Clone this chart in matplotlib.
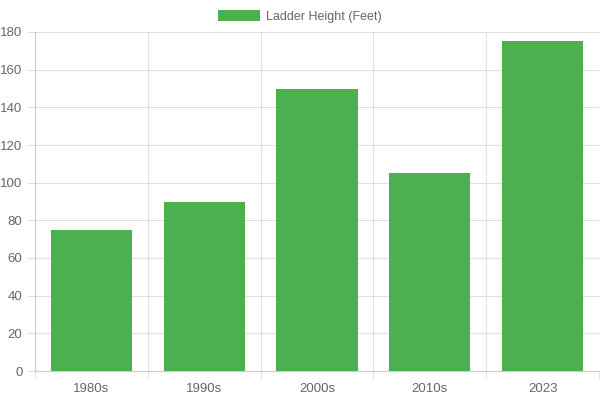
import numpy as np
import matplotlib.pyplot as plt

# данные
decades = ["1980s", "1990s", "2000s", "2010s", "2023"]
heights = [75, 90, 150, 105, 175]
series_name = "Ladder Height (Feet)"

plt.rcParams["font.family"] = ["Liberation Sans", "DejaVu Sans"]

fig = plt.figure(figsize=(6, 4), dpi=100)
ax = fig.add_axes([35 / 600, 1 - 371 / 400, 564 / 600, 339 / 400])

x = np.arange(len(decades))
ax.bar(x, heights, width=0.72, color="#4caf50", label=series_name, zorder=3)

ax.set_xlim(-0.5, len(decades) - 0.5)
ax.set_ylim(0, 180)
ax.set_yticks(range(0, 181, 20))
ax.set_xticks(x)
ax.set_xticklabels(decades)
ax.set_xticks(np.arange(-0.5, len(decades), 1), minor=True)

grid_c = "#e0e0e0"
ax.grid(axis="y", color=grid_c, linewidth=0.8, zorder=0)
ax.grid(axis="x", which="minor", color=grid_c, linewidth=0.8, zorder=0)
ax.tick_params(axis="x", which="major", length=0, pad=9, labelsize=9.5, labelcolor="#666666")
ax.tick_params(axis="x", which="minor", length=6, color=grid_c)
ax.tick_params(axis="y", length=6, color=grid_c, pad=3, labelsize=9.5, labelcolor="#666666")

for side in ["top", "right"]:
    ax.spines[side].set_visible(False)
for side in ["left", "bottom"]:
    ax.spines[side].set_color("#cccccc")
    ax.spines[side].set_linewidth(0.8)

# легенда по центру всего холста
fig.legend(loc="lower center", bbox_to_anchor=(0.5, 1 - 23 / 400), frameon=False,
           fontsize=9, handlelength=3.3, handleheight=1.0, handletextpad=0.5,
           labelcolor="#666666", borderaxespad=0, borderpad=0)

fig.savefig("out.png", dpi=100)
